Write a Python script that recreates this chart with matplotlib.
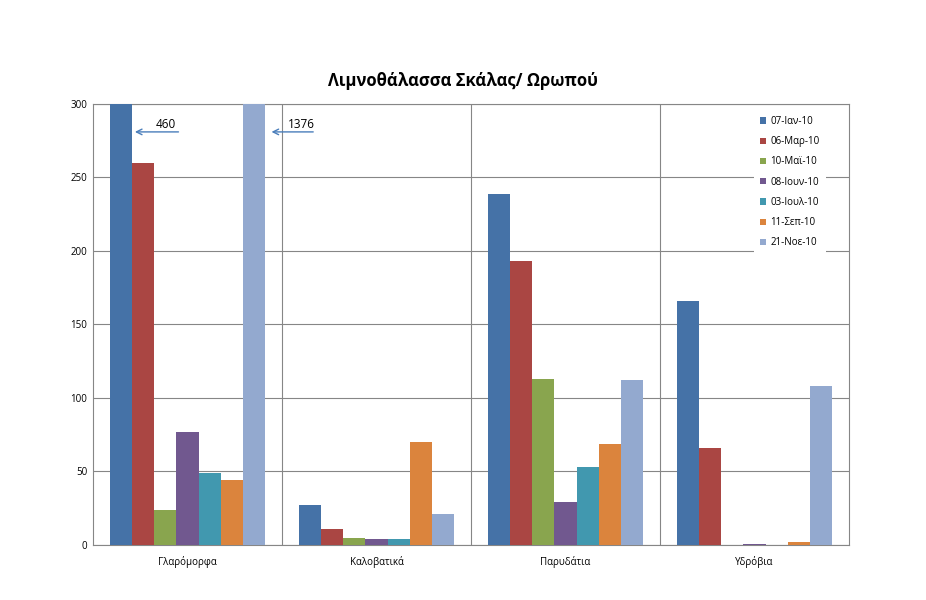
import numpy as np
import matplotlib.pyplot as plt

plt.rcParams['font.family'] = ['Open Sans', 'DejaVu Sans']

categories = ["Γλαρόμορφα", "Καλοβατικά", "Παρυδάτια", "Υδρόβια"]
dates = ["07-Ιαν-10", "06-Μαρ-10", "10-Μαϊ-10", "08-Ιουν-10",
         "03-Ιουλ-10", "11-Σεπ-10", "21-Νοε-10"]
values = [
    [460, 27, 239, 166],
    [260, 11, 193, 66],
    [24, 5, 113, 0],
    [77, 4, 29, 1],
    [49, 4, 53, 0],
    [44, 70, 69, 2],
    [1376, 21, 112, 108],
]
colors = ["#4572A7", "#AA4643", "#89A54E", "#71588F", "#4198AF", "#DB843D", "#93A9CF"]

ymax = 300
x = np.arange(len(categories))
w = 0.82 / len(dates)

fig = plt.figure(figsize=(9.26, 6), dpi=100)
ax = fig.add_axes([0.1004, 0.0917, 0.8164, 0.735])

for i, (d, v) in enumerate(zip(dates, values)):
    ax.bar(x + (i - 3) * w, np.minimum(v, ymax), w, color=colors[i], label=d, zorder=3)

ax.set_ylim(0, ymax)
ax.set_xlim(-0.5, len(categories) - 0.5)
ax.set_yticks(np.arange(0, ymax + 1, 50))
ax.set_xticks(x)
ax.set_xticklabels(categories)
ax.tick_params(labelsize=7, length=0, pad=8)
ax.tick_params(axis='y', pad=4)
for b in np.arange(0.5, len(categories) - 0.5):
    ax.axvline(b, color="#868686", lw=0.8, zorder=1)
ax.yaxis.grid(True, color="#868686", lw=0.8, zorder=1)
for s in ax.spines.values():
    s.set_color("#868686")
    s.set_linewidth(0.8)

# clipped values marked with arrows
arrow_c = "#4A7EBB"
for i, dx_tip, dx_tail in [(0, 0.0, 0.26), (6, 0.02, 0.25)]:
    tip = x[0] + (i - 3) * w + w / 2 + dx_tip
    tail = tip + dx_tail
    ax.annotate("", xy=(tip, 281), xytext=(tail, 281),
                arrowprops=dict(arrowstyle="->", color=arrow_c, lw=1), zorder=5)
    ax.text((tip + tail) / 2 + 0.05, 281.5, str(values[i][0]), fontsize=8.5,
            ha="center", va="bottom", zorder=5)

leg = ax.legend(loc="upper left", bbox_to_anchor=(0.868, 0.997), fontsize=7,
                frameon=True, fancybox=False, edgecolor="none", framealpha=1,
                handlelength=0.6, handleheight=0.6, labelspacing=0.95,
                borderpad=0.6, handletextpad=0.5)

fig.suptitle("Λιμνοθάλασσα Σκάλας/ Ωρωπού", y=0.88, fontsize=12, fontweight="bold")
fig.savefig("out.png", dpi=100)
